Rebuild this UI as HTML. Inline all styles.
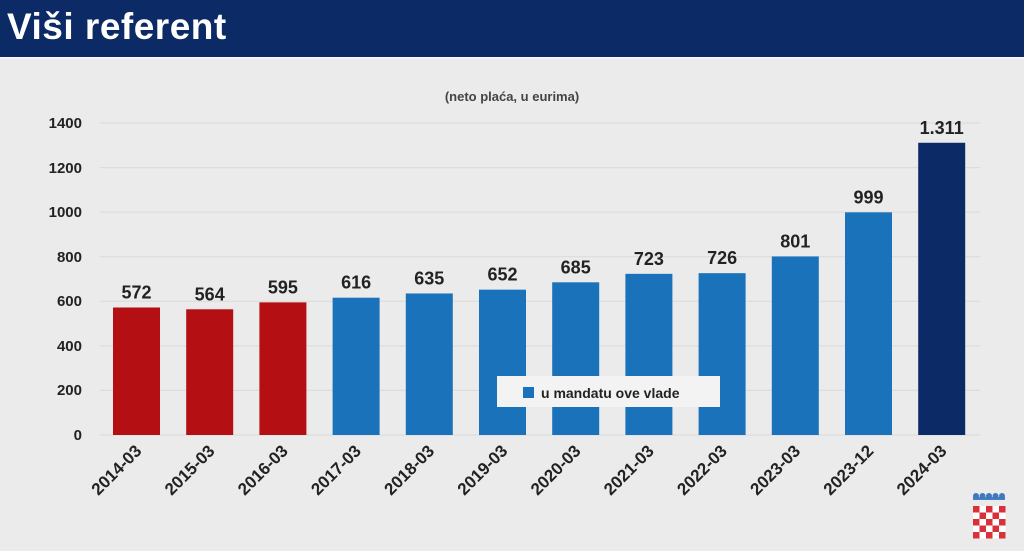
<!DOCTYPE html>
<html><head><meta charset="utf-8"><style>
html,body{margin:0;padding:0;width:1024px;height:551px;overflow:hidden;background:#ebebeb}
svg{display:block}
</style></head><body>
<svg width="1024" height="551" viewBox="0 0 1024 551" xmlns="http://www.w3.org/2000/svg" font-family="Liberation Sans, DejaVu Sans, sans-serif">
<rect x="0" y="0" width="1024" height="551" fill="#ebebeb"/>
<rect x="0" y="0" width="1024" height="57" fill="#0c2b66"/>
<rect x="0" y="57" width="1024" height="2" fill="#f6f6f6"/>
<text x="7" y="39" fill="#fff" font-size="37" font-weight="bold" letter-spacing="0.5">Viši referent</text>
<text x="512" y="101" fill="#444" font-size="13" font-weight="bold" text-anchor="middle">(neto plaća, u eurima)</text>
<g stroke="#dcdcdc" stroke-width="1.2">
<line x1="100" x2="980" y1="123" y2="123"/>
<line x1="100" x2="980" y1="167.6" y2="167.6"/>
<line x1="100" x2="980" y1="212.1" y2="212.1"/>
<line x1="100" x2="980" y1="256.7" y2="256.7"/>
<line x1="100" x2="980" y1="301.3" y2="301.3"/>
<line x1="100" x2="980" y1="345.9" y2="345.9"/>
<line x1="100" x2="980" y1="390.4" y2="390.4"/>
<line x1="100" x2="980" y1="435" y2="435"/>
</g>
<g font-size="15" font-weight="bold" fill="#222" text-anchor="end">
<text x="82" y="128">1400</text>
<text x="82" y="173">1200</text>
<text x="82" y="217">1000</text>
<text x="82" y="262">800</text>
<text x="82" y="306">600</text>
<text x="82" y="351">400</text>
<text x="82" y="395">200</text>
<text x="82" y="440">0</text>
</g>
<g id="bars"></g>
<g font-size="18" font-weight="bold" fill="#222" text-anchor="middle" id="vals"></g>
<g font-size="17" font-weight="bold" fill="#222" text-anchor="end" id="xl"></g>
<rect x="497" y="376" width="223" height="31" fill="#f3f3f3"/>
<rect x="523" y="387" width="11" height="11" fill="#1a72bb"/>
<text x="541" y="398" font-size="14" font-weight="bold" fill="#222">u mandatu ove vlade</text>
<g id="coa"></g>
<script>
var ns="http://www.w3.org/2000/svg";
var d=[["2014-03",572,"#b40f12","572"],["2015-03",564,"#b40f12","564"],["2016-03",595,"#b40f12","595"],["2017-03",616,"#1a72bb","616"],["2018-03",635,"#1a72bb","635"],["2019-03",652,"#1a72bb","652"],["2020-03",685,"#1a72bb","685"],["2021-03",723,"#1a72bb","723"],["2022-03",726,"#1a72bb","726"],["2023-03",801,"#1a72bb","801"],["2023-12",999,"#1a72bb","999"],["2024-03",1311,"#0c2b66","1.311"]];
var B=document.getElementById("bars"),V=document.getElementById("vals"),X=document.getElementById("xl");
function el(p,t,a,txt){var e=document.createElementNS(ns,t);for(var k in a)e.setAttribute(k,a[k]);if(txt)e.textContent=txt;p.appendChild(e);return e;}
d.forEach(function(r,i){var cx=136.5+i*73.2;var h=r[1]*0.2229;var y=435-h;
el(B,"rect",{x:cx-23.5,y:y,width:47,height:h,fill:r[2]});
el(V,"text",{x:cx,y:y-9},r[3]);
el(X,"text",{x:cx+6,y:452,transform:"rotate(-45 "+(cx+6)+" 452)"},r[0]);});
var C=document.getElementById("coa");
for(var rr=0;rr<5;rr++)for(var c=0;c<5;c++){el(C,"rect",{x:973+c*6.5,y:506+rr*6.5,width:6.5,height:6.5,fill:((rr+c)%2==0)?"#d8313a":"#fff"});}
el(C,"path",{d:"M973 500 L1005 500 L1005 497 L973 497 Z",fill:"#4a7fc0"});
for(var k=0;k<5;k++)el(C,"circle",{cx:976+k*6.5,cy:496,r:3,fill:"#3f78c0"});
</script>
</svg>
</body></html>
